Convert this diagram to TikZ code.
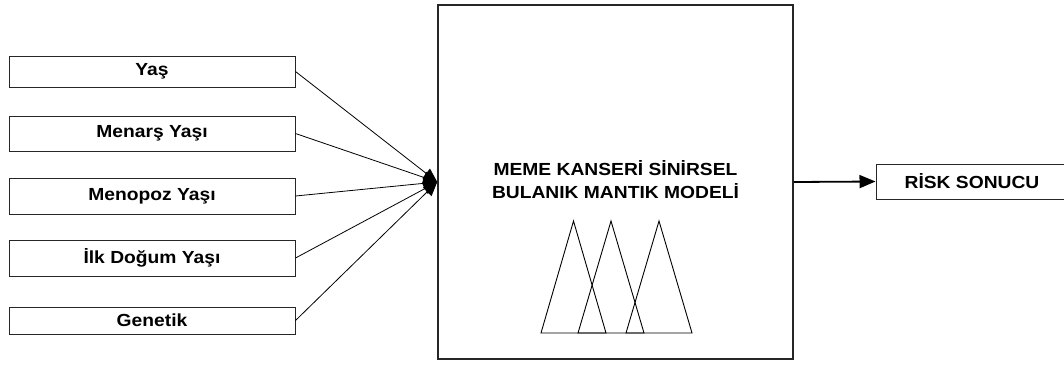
\documentclass[tikz,border=0pt]{standalone}
\usepackage{fontspec}
\setmainfont{Liberation Sans}[FakeStretch=1.1]
\usetikzlibrary{arrows.meta}
\begin{document}
\begin{tikzpicture}[x=1pt,y=-1pt,
  txt/.style={font=\fontsize{17.5}{23}\selectfont\bfseries},
  inbox/.style={txt, draw=black!85, line width=1pt, minimum width=286pt, inner sep=0pt},
  modelbox/.style={txt, draw=black!85, line width=1.5pt, minimum width=355pt, minimum height=354pt, inner sep=0pt, align=center},
  outbox/.style={txt, draw=black!85, line width=1pt, minimum width=192pt, minimum height=35pt, inner sep=0pt},
  inarrow/.style={draw=black, line width=0.8pt, -{Triangle[length=14pt,width=12pt]}},
  outarrow/.style={draw=black, line width=1.8pt, -{Triangle[length=16pt,width=13pt]}},
  tri/.style={draw=black, line width=0.9pt, line join=miter}
]
\clip (0,0) rectangle (1064,365);
\fill[white] (0,0) rectangle (1064,365);

\node[inbox, minimum height=31pt] (yas) at (152,71.5) {Yaş};
\node[inbox, minimum height=35pt] (menars) at (152,133.5) {Menarş Yaşı};
\node[inbox, minimum height=36pt] (menopoz) at (152,196) {Menopoz Yaşı};
\node[inbox, minimum height=36pt] (ilkdogum) at (152,258) {İlk Doğum Yaşı};
\node[inbox, minimum height=27pt] (genetik) at (152,320.5) {Genetik};

\node[modelbox] (model) at (615.5,182) {};
\node[txt, align=center, inner sep=0pt] (modeltext) at (615.5,180) {MEME KANSERİ SİNİRSEL\\BULANIK MANTIK MODELİ};

\node[outbox] (risk) at (972,181.5) {RİSK SONUCU};

\coordinate (conv) at (model.west);
\foreach \n in {yas,menars,menopoz,ilkdogum,genetik}
  \draw[inarrow] (\n.east) -- (conv);

\draw[outarrow] (model.east) -- (risk.west);

\draw[tri] (541,333) -- (573.5,221) -- (606,333) -- cycle;
\draw[tri] (578,333) -- (611,221) -- (644,333) -- cycle;
\draw[tri] (626,333) -- (659,221) -- (692,333) -- cycle;
\end{tikzpicture}
\end{document}
